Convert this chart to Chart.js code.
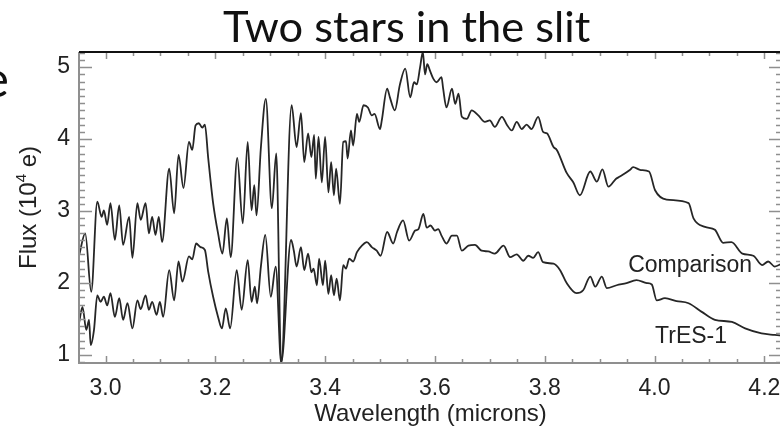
<!DOCTYPE html>
<html>
<head>
<meta charset="utf-8">
<script src="https://cdn.jsdelivr.net/npm/chart.js@4.4.1/dist/chart.umd.min.js"></script>
<style>
  html, body { margin: 0; padding: 0; background: #fff; overflow: hidden; }
  #wrap { width: 780px; height: 428px; overflow: hidden; }
</style>
</head>
<body>
<div id="wrap"><canvas id="fluxChart" width="790" height="428"></canvas></div>
<script>
// values (wavelength in microns, flux in 10^4 e)
var compWave = [2.952,2.963,2.974,2.985,2.993,2.997,3.003,3.009,3.017,3.025,3.032,3.043,3.049,3.058,3.064,3.073,3.079,3.085,3.091,3.097,
    3.103,3.116,3.125,3.133,3.142,3.152,3.158,3.164,3.170,3.176,3.181,3.187,3.196,3.205,3.213,3.221,3.228,3.240,3.250,3.259,
    3.266,3.271,3.275,3.283,3.292,3.303,3.311,3.320,3.339,3.348,3.356,3.362,3.369,3.375,3.380,3.383,3.388,3.394,3.400,3.406,
    3.411,3.416,3.420,3.427,3.433,3.438,3.441,3.447,3.451,3.458,3.462,3.470,3.478,3.485,3.490,3.500,3.503,3.513,3.518,3.527,
    3.536,3.546,3.555,3.562,3.567,3.573,3.578,3.582,3.586,3.591,3.597,3.603,3.612,3.615,3.621,3.631,3.637,3.643,3.649,3.658,
    3.667,3.679,3.691,3.700,3.709,3.722,3.731,3.740,3.749,3.758,3.767,3.776,3.788,3.797,3.804,3.816,3.822,3.840,3.852,3.864,
    3.883,3.895,3.905,3.916,3.930,3.937,3.955,3.961,3.975,3.990,4.001,4.022,4.062,4.071,4.092,4.110,4.125,4.140,4.160,4.180,
    4.196,4.207,4.219,4.232];
var compFlux = [2.39,2.69,1.88,3.13,2.92,3.01,2.81,3.11,2.60,3.08,2.53,2.92,2.35,3.11,2.88,3.11,2.69,2.92,2.67,2.92,
    2.57,3.59,2.97,3.78,3.32,3.96,3.85,4.19,4.22,4.16,4.20,3.74,3.11,2.69,2.41,2.90,2.36,3.74,2.83,3.96,
    3.01,3.36,2.94,3.88,4.56,3.04,3.80,0.89,4.47,3.89,4.36,3.68,4.08,3.75,4.06,3.45,4.03,3.40,4.03,3.26,
    3.68,3.22,3.59,3.10,3.96,3.97,3.73,4.12,3.91,4.35,4.24,4.47,4.44,4.33,4.35,4.14,4.25,4.70,4.58,4.40,
    4.75,4.98,4.58,4.79,4.76,5.00,5.21,4.90,5.04,4.95,4.84,4.79,4.86,4.70,4.44,4.70,4.49,4.63,4.31,4.28,
    4.40,4.33,4.24,4.26,4.17,4.31,4.20,4.12,4.24,4.14,4.20,4.14,4.31,4.10,4.08,3.89,3.85,3.53,3.40,3.22,
    3.55,3.41,3.58,3.34,3.45,3.48,3.57,3.61,3.57,3.55,3.29,3.16,3.11,2.90,2.78,2.74,2.56,2.57,2.41,2.38,
    2.25,2.30,2.23,2.27];

var tresWave = [2.952,2.958,2.965,2.970,2.973,2.979,2.985,2.991,2.997,3.003,3.009,3.017,3.025,3.032,3.040,3.049,3.058,3.064,3.073,3.079,
    3.085,3.093,3.099,3.105,3.116,3.125,3.133,3.140,3.152,3.158,3.165,3.173,3.181,3.187,3.196,3.205,3.212,3.219,3.227,3.239,
    3.248,3.259,3.266,3.272,3.276,3.283,3.291,3.301,3.310,3.320,3.338,3.343,3.348,3.356,3.362,3.369,3.375,3.379,3.385,3.389,
    3.396,3.400,3.406,3.411,3.416,3.421,3.427,3.433,3.438,3.444,3.451,3.458,3.467,3.476,3.485,3.494,3.501,3.513,3.524,3.531,
    3.542,3.553,3.564,3.570,3.579,3.585,3.592,3.600,3.606,3.612,3.621,3.631,3.640,3.649,3.661,3.673,3.685,3.697,3.709,3.725,
    3.737,3.749,3.761,3.770,3.779,3.788,3.797,3.816,3.828,3.840,3.858,3.870,3.883,3.892,3.904,3.913,3.931,3.949,3.967,3.986,
    3.995,4.004,4.019,4.040,4.062,4.086,4.110,4.141,4.165,4.195,4.219,4.232];
var tresFlux = [1.45,1.67,1.35,1.49,1.14,1.35,1.83,1.74,1.81,1.69,1.86,1.53,1.79,1.49,1.72,1.37,1.76,1.64,1.83,1.63,
    1.74,1.56,1.74,1.53,2.18,1.76,2.30,2.02,2.37,2.33,2.55,2.50,2.46,2.16,1.81,1.53,1.37,1.65,1.37,2.18,
    1.63,2.32,1.74,1.95,1.72,2.23,2.67,1.81,2.23,0.89,2.60,2.45,2.23,2.50,2.18,2.41,2.15,2.20,1.97,2.34,
    1.97,2.31,1.85,2.11,1.83,2.06,1.76,2.25,2.20,2.34,2.30,2.43,2.52,2.57,2.50,2.45,2.38,2.71,2.55,2.71,
    2.87,2.59,2.73,2.75,2.96,2.77,2.80,2.73,2.75,2.66,2.55,2.66,2.66,2.45,2.52,2.53,2.45,2.44,2.41,2.52,
    2.36,2.40,2.31,2.38,2.35,2.43,2.29,2.27,2.18,2.00,1.86,1.90,2.09,1.95,2.09,1.93,1.97,2.00,2.04,2.00,
    1.98,1.76,1.79,1.75,1.72,1.60,1.49,1.46,1.37,1.30,1.28,1.27];

var seriesNames = ['Comparison', 'TrES-1'];
var labelPos = [[3.952, 2.15], [4.001, 1.17]];   // left edge / baseline of the curve labels
var xTicks = [3.0, 3.2, 3.4, 3.6, 3.8, 4.0, 4.2];
var yTicks = [1, 2, 3, 4, 5];
var xRange = [2.9517, 4.2322];
var yRange = [0.89, 5.21];

function pairUp(xs, ys) {
    var out = [];
    for (var i = 0; i < xs.length; i++) out.push({ x: xs[i], y: ys[i] });
    return out;
}

var LABEL_FONT = '23px "Liberation Sans", Arial, sans-serif';

var framePlugin = {
    id: 'frame',
    beforeDraw: function (chart) {
        var ctx = chart.ctx;
        ctx.save();
        ctx.fillStyle = '#fff';
        ctx.fillRect(0, 0, chart.width, chart.height);
        ctx.restore();
    },
    afterDatasetsDraw: function (chart) {
        var ctx = chart.ctx, a = chart.chartArea;
        var xs = chart.scales.x, ys = chart.scales.y;
        ctx.save();

        // box
        ctx.strokeStyle = '#8f8f8f';
        ctx.lineWidth = 2;
        ctx.beginPath();
        ctx.moveTo(a.left, a.top);
        ctx.lineTo(a.left, a.bottom);
        ctx.lineTo(a.right, a.bottom);
        ctx.lineTo(a.right, a.top);
        ctx.stroke();

        // tick marks, all pointing inward
        ctx.lineWidth = 1.5;
        ctx.beginPath();
        for (var i = 0; i <= 24; i++) {
            var xv = 3.0 + i * 0.05;
            var px = Math.round(xs.getPixelForValue(xv)) + 0.5;
            var len = (i % 4 === 0) ? 7 : 4;
            ctx.moveTo(px, a.bottom); ctx.lineTo(px, a.bottom - len);
            ctx.moveTo(px, a.top); ctx.lineTo(px, a.top + len);
        }
        for (var k = 9; k <= 52; k++) {
            var py = Math.round(ys.getPixelForValue(k / 10)) + 0.5;
            var ylen = (k % 10 === 0) ? 13 : 6;
            ctx.moveTo(a.left, py); ctx.lineTo(a.left + ylen, py);
            ctx.moveTo(a.right, py); ctx.lineTo(a.right - ylen, py);
        }
        ctx.stroke();

        // black rule along the top
        ctx.strokeStyle = '#111';
        ctx.lineWidth = 2;
        ctx.beginPath();
        ctx.moveTo(a.left, a.top);
        ctx.lineTo(chart.width, a.top);
        ctx.stroke();

        // tick labels
        ctx.fillStyle = '#222';
        ctx.font = LABEL_FONT;
        ctx.textAlign = 'center';
        ctx.textBaseline = 'middle';
        xTicks.forEach(function (v) {
            ctx.fillText(v.toFixed(1), xs.getPixelForValue(v), a.bottom + 26);
        });
        ctx.textAlign = 'right';
        yTicks.forEach(function (v) {
            ctx.fillText(String(v), a.left - 9, ys.getPixelForValue(v));
        });

        // curve labels
        ctx.textAlign = 'left';
        ctx.textBaseline = 'alphabetic';
        seriesNames.forEach(function (name, i) {
            ctx.fillText(name, xs.getPixelForValue(labelPos[i][0]), ys.getPixelForValue(labelPos[i][1]));
        });

        // axis titles
        ctx.font = '24px "Liberation Sans", Arial, sans-serif';
        ctx.textAlign = 'center';
        ctx.fillText('Wavelength (microns)', (a.left + a.right) / 2, a.bottom + 58);

        ctx.save();
        ctx.translate(29, (a.top + a.bottom) / 2);
        ctx.rotate(-Math.PI / 2);
        ctx.textBaseline = 'middle';
        var p1 = 'Flux (10', p2 = '4', p3 = ' e)';
        ctx.font = '24px "Liberation Sans", Arial, sans-serif';
        var w1 = ctx.measureText(p1).width, w3 = ctx.measureText(p3).width;
        ctx.font = '15px "Liberation Sans", Arial, sans-serif';
        var w2 = ctx.measureText(p2).width;
        var x0 = -(w1 + w2 + w3) / 2;
        ctx.textAlign = 'left';
        ctx.font = '24px "Liberation Sans", Arial, sans-serif';
        ctx.fillText(p1, x0, 0);
        ctx.fillText(p3, x0 + w1 + w2, 0);
        ctx.font = '15px "Liberation Sans", Arial, sans-serif';
        ctx.fillText(p2, x0 + w1, -7);
        ctx.restore();

        // slide title and the clipped letter at the left edge
        ctx.fillStyle = '#111';
        ctx.textAlign = 'left';
        ctx.textBaseline = 'alphabetic';
        var title = 'Two stars in the slit';
        ctx.font = '44px Lato, "Open Sans", sans-serif';
        var tw = ctx.measureText(title).width;
        var size = 44 * 367 / tw;
        ctx.font = size.toFixed(1) + 'px Lato, "Open Sans", sans-serif';
        ctx.fillText(title, 223, 42);
        ctx.font = '50px Lato, "Open Sans", sans-serif';
        ctx.textAlign = 'right';
        ctx.fillText('e', 9, 97);

        ctx.restore();
    }
};

var ctx = document.getElementById('fluxChart').getContext('2d');
var fluxChart = new Chart(ctx, {
    type: 'line',
    data: {
        datasets: [{
            label: seriesNames[0],
            data: pairUp(compWave, compFlux),
            borderColor: '#262626',
            borderWidth: 1.8,
            pointRadius: 0,
            fill: false,
            cubicInterpolationMode: 'monotone'
        }, {
            label: seriesNames[1],
            data: pairUp(tresWave, tresFlux),
            borderColor: '#262626',
            borderWidth: 1.8,
            pointRadius: 0,
            fill: false,
            cubicInterpolationMode: 'monotone'
        }]
    },
    options: {
        responsive: false,
        animation: false,
        layout: { padding: { left: 79, right: 8, top: 52, bottom: 65 } },
        plugins: {
            legend: { display: false },
            tooltip: { enabled: false }
        },
        scales: {
            x: { type: 'linear', min: xRange[0], max: xRange[1], display: false },
            y: { type: 'linear', min: yRange[0], max: yRange[1], display: false }
        }
    },
    plugins: [framePlugin]
});
</script>
</body>
</html>
